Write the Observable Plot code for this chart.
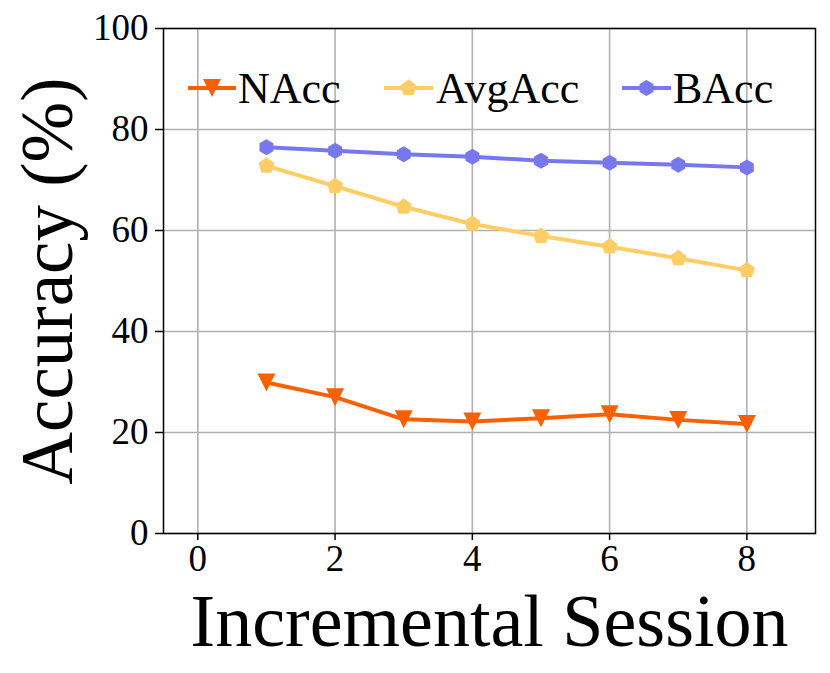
<!DOCTYPE html>
<html>
<head>
<meta charset="utf-8">
<script src="https://cdn.jsdelivr.net/npm/d3@7"></script>
<script src="https://cdn.jsdelivr.net/npm/@observablehq/plot@0.6"></script>
<style>
  html, body { margin: 0; padding: 0; background: #fff; }
  #chart svg { display: block; }
</style>
</head>
<body>
<div id="chart"></div>
<script>
// ---- data ----
const sessions = [1, 2, 3, 4, 5, 6, 7, 8];
const nacc = [29.9, 27.0, 22.6, 22.2, 22.8, 23.6, 22.5, 21.7];
const avgacc = [72.8, 68.8, 64.7, 61.3, 58.9, 56.8, 54.5, 52.1];
const bacc = [76.5, 75.8, 75.1, 74.6, 73.8, 73.4, 73.0, 72.5];
const seriesNames = ["NAcc", "AvgAcc", "BAcc"];
const seriesColors = ["#fa6000", "#ffcd66", "#7878ee"];
const xTicks = [0, 2, 4, 6, 8];
const yTicks = [0, 20, 40, 60, 80, 100];

// ---- custom marker symbols ----
const triDown = {
  draw(ctx, size) {
    const r = Math.sqrt(size / Math.PI);
    ctx.moveTo(-r, -r); ctx.lineTo(r, -r); ctx.lineTo(0, r); ctx.closePath();
  }
};
function polygon(n, offset) {
  return {
    draw(ctx, size) {
      const r = Math.sqrt(size / Math.PI);
      for (let i = 0; i < n; i++) {
        const a = offset + i * 2 * Math.PI / n;
        const x = r * Math.sin(a), y = -r * Math.cos(a);
        if (i === 0) ctx.moveTo(x, y); else ctx.lineTo(x, y);
      }
      ctx.closePath();
    }
  };
}
const pentagon = polygon(5, 0);
const hexagon = polygon(6, 0);
const symbols = [triDown, pentagon, hexagon];
const radii = [9, 8.5, 8];

const seriesValues = [nacc, avgacc, bacc];
const rows = seriesNames.flatMap((name, k) =>
  sessions.map((s, i) => ({series: name, k, x: s, y: seriesValues[k][i]})));

const font = "Liberation Serif, Times New Roman, serif";

// legend drawn as a render mark
function legendMark(index, scales, values, dims) {
  const g = d3.create("svg:g").attr("text-anchor", "start");
  const items = [
    {x0: 188, x1: 236, tx: 238},
    {x0: 384, x1: 433, tx: 436},
    {x0: 622, x1: 671, tx: 673}
  ];
  const ly = 88;
  items.forEach((it, k) => {
    g.append("line").attr("x1", it.x0).attr("x2", it.x1).attr("y1", ly).attr("y2", ly)
      .attr("stroke", seriesColors[k]).attr("stroke-width", 4);
    const p = d3.path();
    symbols[k].draw(p, Math.PI * radii[k] * radii[k]);
    g.append("path").attr("d", p.toString())
      .attr("transform", `translate(${(it.x0 + it.x1) / 2},${ly})`)
      .attr("fill", seriesColors[k]);
    g.append("text").attr("x", it.tx).attr("y", ly + 15)
      .attr("text-anchor", "start")
      .attr("font-family", font).attr("font-size", 44).attr("fill", "#000")
      .text(seriesNames[k]);
  });
  return g.node();
}

const chart = Plot.plot({
  width: 830,
  height: 673,
  marginLeft: 163,
  marginRight: 15,
  marginTop: 28,
  marginBottom: 140,
  style: {fontFamily: font, background: "#fff"},
  x: {domain: [-0.5, 9], ticks: xTicks},
  y: {domain: [0, 100], ticks: yTicks},
  marks: [
    Plot.gridX(xTicks, {stroke: "#b0b0b0", strokeOpacity: 1, strokeWidth: 1.6}),
    Plot.gridY(yTicks, {stroke: "#b0b0b0", strokeOpacity: 1, strokeWidth: 1.6}),
    Plot.axisX(xTicks, {tickSize: 7, tickPadding: 4, fontSize: 37, label: null, stroke: "#000", strokeWidth: 1.5, fill: "#000"}),
    Plot.axisY(yTicks, {tickSize: 8, tickPadding: 7, fontSize: 37, label: null, stroke: "#000", strokeWidth: 1.5, fill: "#000"}),
    Plot.line(rows, {x: "x", y: "y", z: "series", stroke: d => seriesColors[d.k], strokeWidth: 4}),
    ...seriesNames.map((name, k) =>
      Plot.dot(rows.filter(d => d.k === k), {x: "x", y: "y", symbol: () => symbols[k], r: radii[k], fill: seriesColors[k], stroke: "none"})),
    Plot.frame({stroke: "#000", strokeWidth: 1.5}),
    legendMark,
    Plot.text(["Accuracy (%)"], {frameAnchor: "left", dx: -92, rotate: -90, lineAnchor: "bottom", textAnchor: "middle", fontSize: 73, fill: "#000"}),
    Plot.text(["Incremental Session"], {frameAnchor: "bottom", dy: 112, lineAnchor: "bottom", textAnchor: "middle", fontSize: 74, fill: "#000"})
  ]
});
document.getElementById("chart").appendChild(chart);
</script>
</body>
</html>
